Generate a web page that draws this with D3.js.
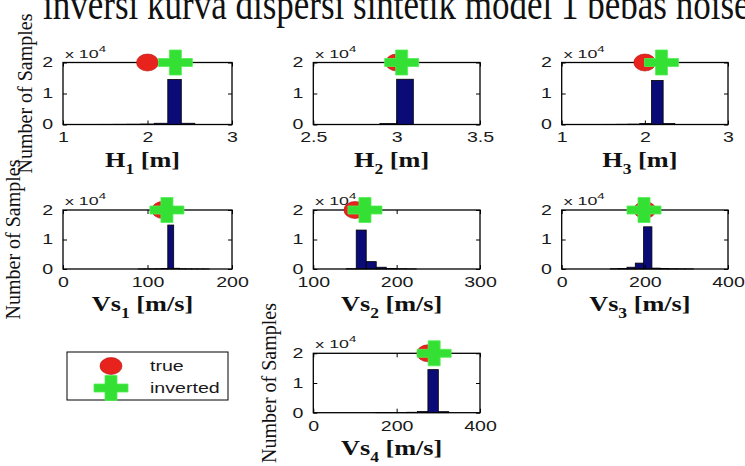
<!DOCTYPE html>
<html>
<head>
<meta charset="utf-8">
<script src="https://cdn.jsdelivr.net/npm/d3@7"></script>
<style>
  html, body { margin: 0; padding: 0; background: #fff; }
  svg { display: block; }
  text { white-space: pre; }
</style>
</head>
<body>
<script>
// Histograms of the sampled layer parameters (thickness H and shear velocity Vs)
// with the true model value and the inverted (best) value marked on top.

const pageLine = "inversi kurva dispersi sintetik model 1 bebas noise";

const paramNames = ["H", "H", "H", "Vs", "Vs", "Vs", "Vs"];
const paramSubs  = ["1", "2", "3", "1", "2", "3", "4"];
const paramUnits = ["m", "m", "m", "m/s", "m/s", "m/s", "m/s"];

const xDomains = [[1, 3], [2.5, 3.5], [1, 3], [0, 200], [100, 300], [0, 400], [0, 400]];
const xTickValues = [[1, 2, 3], [2.5, 3, 3.5], [1, 2, 3], [0, 100, 200], [100, 200, 300], [0, 200, 400], [0, 200, 400]];
const xTickLabels = [["1", "2", "3"], ["2.5", "3", "3.5"], ["1", "2", "3"], ["0", "100", "200"], ["100", "200", "300"], ["0", "200", "400"], ["0", "200", "400"]];

const yTickValues = [0, 10000, 20000];
const yTickLabels = ["0", "1", "2"];
const yMax = 20000;
const yLabel = "Number of Samples";

// histogram bins: edges and sample counts per parameter
const h1Edges  = [1.44, 1.60, 1.76, 1.92, 2.08, 2.24, 2.40, 2.56];
const h1Counts = [40, 60, 90, 150, 400, 14500, 400];

const h2Edges  = [2.90, 3.00, 3.10];
const h2Counts = [300, 14600];

const h3Edges  = [1.52, 1.66, 1.80, 1.94, 2.08, 2.22, 2.36];
const h3Counts = [40, 70, 120, 350, 14200, 300];

const vs1Edges  = [89, 96, 103, 110, 117, 124, 131, 138, 145, 152, 159, 166, 173];
const vs1Counts = [20, 30, 50, 80, 200, 14900, 250, 80, 50, 30, 20, 20];

const vs2Edges  = [139.5, 151.5, 163.5, 175.5, 187.5, 199.5, 211.5, 223.5];
const vs2Counts = [100, 13200, 2500, 600, 200, 80, 40];

const vs3Edges  = [117, 137, 157, 177, 197, 217, 237, 257, 277, 297, 317];
const vs3Counts = [80, 150, 600, 2000, 14300, 300, 150, 80, 50, 30];

const vs4Edges  = [150, 175, 200, 225, 250, 275, 300, 325];
const vs4Counts = [40, 60, 90, 150, 400, 14500, 350];

const binEdges  = [h1Edges, h2Edges, h3Edges, vs1Edges, vs2Edges, vs3Edges, vs4Edges];
const binCounts = [h1Counts, h2Counts, h3Counts, vs1Counts, vs2Counts, vs3Counts, vs4Counts];

const trueValues     = [2.0, 3.0, 2.0, 118, 150, 200, 275];
const invertedValues = [2.33, 3.03, 2.2, 123, 162, 198, 290];
const markerCount = 20000;

const legendLabels = ["true", "inverted"];

// ---------------------------------------------------------------------------

const W = 745, H = 466;
const serif = "'Liberation Serif', 'Times New Roman', serif";
const sans = "'Liberation Sans', Arial, sans-serif";
const barFill = "#0b0b78";
const trueFill = "#e8231d";
const invFill = "#35e035";
const inkColor = "#1a1a1a";

const svg = d3.select("body").append("svg")
  .attr("width", W).attr("height", H)
  .attr("viewBox", `0 0 ${W} ${H}`);

// running text of the surrounding page, cut at the top edge
svg.append("g").attr("transform", "translate(43,19) scale(1,1.25)")
  .append("text")
  .attr("font-family", serif)
  .attr("font-size", 35)
  .attr("fill", "#111")
  .text(pageLine);

const layout = [
  { x: 63,    y: 62.5,  w: 169,   h: 62 },
  { x: 313.3, y: 62.5,  w: 166.7, h: 62 },
  { x: 561.7, y: 62.5,  w: 166.3, h: 62 },
  { x: 63,    y: 210,   w: 169,   h: 59 },
  { x: 313.3, y: 210,   w: 166.7, h: 59 },
  { x: 561.7, y: 210,   w: 166.3, h: 59 },
  { x: 313.3, y: 353.3, w: 166.7, h: 59.4 }
];
// x position of the rotated y-label baseline (absolute), for panels that carry one
const yLabelX = { 0: 31.5, 3: 20, 6: 276 };

const tickLen = 4;

function drawTrue(g, cx, cy) {
  g.append("ellipse")
    .attr("cx", cx).attr("cy", cy)
    .attr("rx", 11).attr("ry", 8.5)
    .attr("fill", trueFill)
    .attr("stroke", "#b3120e").attr("stroke-width", 0.6);
}

function drawInverted(g, cx, cy) {
  const armW = 34, armH = 8, stemW = 12, stemH = 25;
  g.append("path")
    .attr("d",
      `M${cx - armW / 2},${cy - armH / 2}H${cx - stemW / 2}V${cy - stemH / 2}H${cx + stemW / 2}` +
      `V${cy - armH / 2}H${cx + armW / 2}V${cy + armH / 2}H${cx + stemW / 2}V${cy + stemH / 2}` +
      `H${cx - stemW / 2}V${cy + armH / 2}H${cx - armW / 2}Z`)
    .attr("fill", invFill)
    .attr("stroke", "#52ef52").attr("stroke-width", 0.8);
}

function styleTickText(sel, sx) {
  sel.selectAll("text")
    .attr("font-family", sans)
    .attr("font-size", 14)
    .attr("fill", inkColor)
    .attr("transform", `scale(${sx},1)`);
}

paramNames.forEach((name, i) => {
  const L = layout[i];
  const g = svg.append("g").attr("transform", `translate(${L.x},${L.y})`);

  const x = d3.scaleLinear().domain(xDomains[i]).range([0, L.w]);
  const y = d3.scaleLinear().domain([0, yMax]).range([L.h, 0]);

  const bins = binCounts[i].map((c, k) => ({ x0: binEdges[i][k], x1: binEdges[i][k + 1], c }));

  g.selectAll("rect.bin")
    .data(bins)
    .join("rect")
    .attr("class", "bin")
    .attr("x", d => x(d.x0))
    .attr("width", d => x(d.x1) - x(d.x0))
    .attr("y", d => y(d.c))
    .attr("height", d => y(0) - y(d.c))
    .attr("fill", barFill)
    .attr("stroke", "#000")
    .attr("stroke-width", 0.8);

  // axes with inward ticks on all four sides
  const fmtX = (d, k) => xTickLabels[i][k];
  const fmtY = (d, k) => yTickLabels[k];

  const gx = g.append("g").attr("transform", `translate(0,${L.h})`)
    .call(d3.axisBottom(x).tickValues(xTickValues[i]).tickFormat(fmtX)
      .tickSizeInner(-tickLen).tickSizeOuter(0).tickPadding(8));
  const gy = g.append("g")
    .call(d3.axisLeft(y).tickValues(yTickValues).tickFormat(fmtY)
      .tickSizeInner(-tickLen).tickSizeOuter(0).tickPadding(7));
  const gt = g.append("g")
    .call(d3.axisTop(x).tickValues(xTickValues[i]).tickFormat("")
      .tickSizeInner(-tickLen).tickSizeOuter(0));
  const gr = g.append("g").attr("transform", `translate(${L.w},0)`)
    .call(d3.axisRight(y).tickValues(yTickValues).tickFormat("")
      .tickSizeInner(-tickLen).tickSizeOuter(0));

  [gx, gy, gt, gr].forEach(a => {
    a.select(".domain").remove();
    a.selectAll(".tick line").attr("stroke", "#000").attr("stroke-width", 1);
  });
  styleTickText(gx, 1.4);
  styleTickText(gy, 1.4);

  g.append("rect")
    .attr("x", 0).attr("y", 0).attr("width", L.w).attr("height", L.h)
    .attr("fill", "none").attr("stroke", "#000").attr("stroke-width", 1.3);

  // exponent note above the y axis
  const ex = g.append("g").attr("transform", `translate(2,-5) scale(1.55,1)`)
    .append("text")
    .attr("font-family", sans).attr("font-size", 11.5).attr("fill", inkColor);
  ex.append("tspan").text("x 10");
  ex.append("tspan").attr("dy", -6).attr("font-size", 8.5).text("4");

  // true and inverted values
  drawTrue(g, x(trueValues[i]), y(markerCount));
  drawInverted(g, x(invertedValues[i]), y(markerCount));

  // x-axis label with subscript
  const xl = g.append("g")
    .attr("transform", `translate(${L.w / 2 - 5},${L.h + 42}) scale(1.25,1)`)
    .append("text")
    .attr("text-anchor", "middle")
    .attr("font-family", serif).attr("font-weight", "bold")
    .attr("font-size", 21).attr("fill", "#111");
  xl.append("tspan").text(name);
  xl.append("tspan").attr("dy", 7).attr("font-size", 14).text(paramSubs[i]);
  xl.append("tspan").attr("dy", -7).text(` [${paramUnits[i]}]`);

  // rotated y-axis label
  if (yLabelX[i] !== undefined) {
    svg.append("text")
      .attr("transform", `translate(${yLabelX[i]},${L.y + L.h / 2}) rotate(-90)`)
      .attr("text-anchor", "middle")
      .attr("font-family", serif).attr("font-size", 20).attr("fill", "#111")
      .text(yLabel);
  }
});

// legend
const lg = svg.append("g").attr("transform", "translate(67,352)");
lg.append("rect")
  .attr("width", 161).attr("height", 48)
  .attr("fill", "#fff").attr("stroke", "#000").attr("stroke-width", 1);
drawTrue(lg, 44, 14);
drawInverted(lg, 44, 36);
legendLabels.forEach((t, k) => {
  lg.append("g").attr("transform", `translate(83,${14 + 22 * k}) scale(1.4,1)`)
    .append("text")
    .attr("dy", "0.35em")
    .attr("font-family", sans).attr("font-size", 14).attr("fill", inkColor)
    .text(t);
});
</script>
</body>
</html>
